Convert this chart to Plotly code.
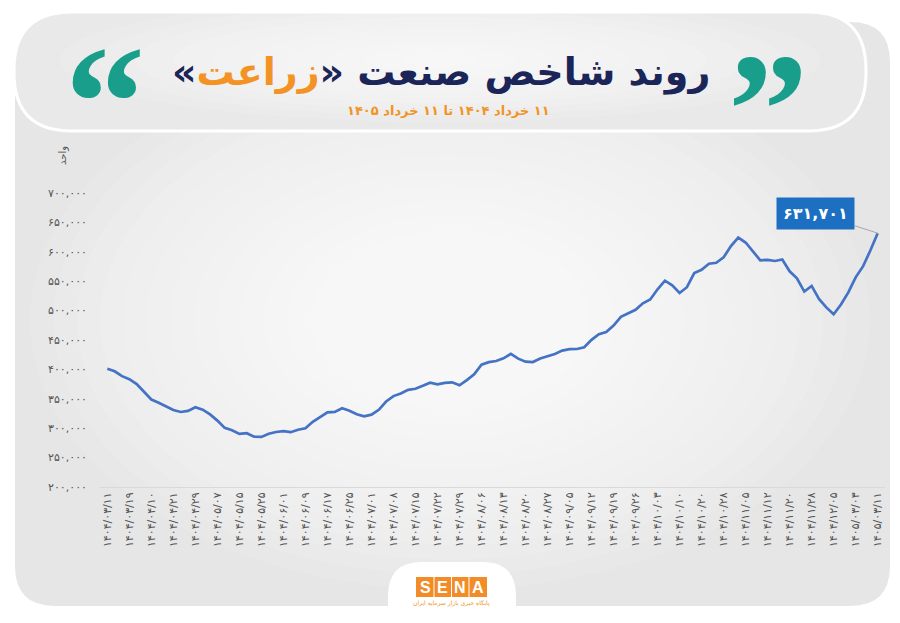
import plotly.graph_objects as go

W, H = 900, 623
ML, MR, MT, MB = 100, 15, 193, 136

# tick dates (every third point of the series)
dates = [
    "1404/03/11", "1404/03/19", "1404/04/10", "1404/04/21", "1404/04/29", "1404/05/07",
    "1404/05/15", "1404/05/25", "1404/06/01", "1404/06/09", "1404/06/17", "1404/06/25",
    "1404/07/01", "1404/07/08", "1404/07/15", "1404/07/22", "1404/07/29", "1404/08/06",
    "1404/08/13", "1404/08/20", "1404/08/27", "1404/09/05", "1404/09/12", "1404/09/19",
    "1404/09/26", "1404/10/03", "1404/10/10", "1404/10/20", "1404/10/28", "1404/11/05",
    "1404/11/12", "1404/11/20", "1404/11/28", "1404/12/05", "1405/03/03", "1405/03/11",
]

# index level
index_values = [
    401200, 396800, 388500, 383400, 375100, 361700, 348800, 343400, 337100, 331000,
    327600, 329500, 335600, 331500, 323400, 312900, 300500, 296600, 290300, 291500,
    285700, 285200, 290700, 293500, 294900, 293200, 297400, 300000, 310800, 318300,
    326800, 327600, 334000, 329600, 323700, 320200, 323000, 331300, 345400, 354600,
    359000, 365200, 367100, 372000, 377300, 374600, 377100, 378000, 372900, 381700,
    391500, 408000, 412400, 414200, 418800, 426300, 418300, 413200, 412500, 418500,
    422000, 426300, 431900, 434400, 434700, 437600, 450300, 460000, 463700, 474600,
    489500, 495800, 501300, 512500, 518800, 536300, 550800, 542900, 530000, 539800,
    563900, 569500, 579800, 581400, 590500, 609700, 624100, 615800, 599700, 585600,
    586100, 584400, 586900, 566800, 554900, 532400, 542000, 519800, 505400, 493700,
    510300, 531000, 556600, 575100, 602200, 631701,
]

y_ticks = [200000, 250000, 300000, 350000, 400000, 450000, 500000, 550000, 600000, 650000, 700000]

FA_DIGITS = str.maketrans("0123456789", "۰۱۲۳۴۵۶۷۸۹")


def fa(s):
    return str(s).translate(FA_DIGITS)


PW = W - ML - MR
PH = H - MT - MB


def px(x):
    return (x - ML) / PW


def py(y):
    return (H - MB - y) / PH


def rounded_path(x0, y0, x1, y1, r):
    def p(x, y):
        return f"{px(x):.5f},{py(y):.5f}"

    return (
        f"M{p(x0 + r, y0)} L{p(x1 - r, y0)} Q{p(x1, y0)} {p(x1, y0 + r)} "
        f"L{p(x1, y1 - r)} Q{p(x1, y1)} {p(x1 - r, y1)} "
        f"L{p(x0 + r, y1)} Q{p(x0, y1)} {p(x0, y1 - r)} "
        f"L{p(x0, y0 + r)} Q{p(x0, y0)} {p(x0 + r, y0)} Z"
    )


def ellipse(cx, cy, rx, ry, opacity):
    return dict(
        type="circle", xref="paper", yref="paper", layer="below",
        x0=px(cx - rx), x1=px(cx + rx), y0=py(cy + ry), y1=py(cy - ry),
        fillcolor="white", opacity=opacity, line_width=0,
    )


shapes = [
    dict(type="path", xref="paper", yref="paper", layer="below",
         path=rounded_path(15, 22, 890, 606, 40), fillcolor="#e6e6e6", line_width=0),
]
# soft radial glow on the card
steps = 18
for k in range(steps):
    f = 1 - k / steps
    shapes.append(ellipse(450, 320, 420 * f, 270 * f, 0.1))
shapes += [
    dict(type="path", xref="paper", yref="paper", layer="below",
         path=rounded_path(14, 12, 866, 131, 58), fillcolor="#e9e9e9",
         line=dict(color="white", width=3)),
]
for k in range(10):
    f = 1 - k / 10
    shapes.append(ellipse(440, 60, 380 * f, 62 * f, 0.13))
shapes += [
    # logo holder
    dict(type="path", xref="paper", yref="paper", layer="below",
         path=rounded_path(388, 562, 516, 640, 34), fillcolor="white", line_width=0),
    dict(type="rect", xref="paper", yref="paper", layer="below",
         x0=px(416), x1=px(487), y0=py(597), y1=py(577), fillcolor="#f28c28", line_width=0),
]
for xs in [434, 451.5, 469]:
    shapes.append(dict(type="line", xref="paper", yref="paper", layer="below",
                       x0=px(xs), x1=px(xs), y0=py(597), y1=py(577),
                       line=dict(color="white", width=1)))

fig = go.Figure()
fig.add_trace(
    go.Scatter(
        x=list(range(len(index_values))),
        y=index_values,
        mode="lines",
        line=dict(color="#4472c4", width=2.7),
        hoverinfo="skip",
        showlegend=False,
    )
)

navy = "#1b2558"
orange = "#f39325"
teal = "#1a9e8c"
annotations = [
    dict(x=px(712), y=py(72), xref="paper", yref="paper", xanchor="right", yanchor="middle",
         showarrow=False,
         text="<b>\u202bروند شاخص صنعت «<span style='color:" + orange + "'>زراعت</span>»\u202c</b>",
         font=dict(family="DejaVu Sans", size=38, color=navy)),
    dict(x=px(448), y=py(111), xref="paper", yref="paper", xanchor="center", yanchor="middle",
         showarrow=False, text="<b>\u202b" + fa("11 خرداد 1404 تا 11 خرداد 1405") + "\u202c</b>",
         font=dict(family="DejaVu Sans", size=13, color=orange)),
    dict(x=px(105), y=py(12), xref="paper", yref="paper", xanchor="center", yanchor="top",
         showarrow=False, text="<b>\u201c</b>",
         font=dict(family="Liberation Serif", size=160, color=teal)),
    dict(x=px(768), y=py(19), xref="paper", yref="paper", xanchor="center", yanchor="top",
         showarrow=False, text="<b>\u201d</b>",
         font=dict(family="Liberation Serif", size=160, color=teal)),
    dict(x=px(63), y=py(156), xref="paper", yref="paper", xanchor="center", yanchor="middle",
         showarrow=False, text="واحد", textangle=-90,
         font=dict(family="DejaVu Sans", size=10, color="#555555")),
    dict(x=len(index_values) - 1, y=index_values[-1], xref="x", yref="y",
         text="<b>" + fa(f"{index_values[-1]:,}") + "</b>",
         showarrow=True, arrowhead=0, arrowwidth=1, arrowcolor="#a6a6a6",
         ax=-62, ay=-20, standoff=0,
         bgcolor="#1c6fc1", borderpad=6,
         font=dict(family="DejaVu Sans", size=16, color="white")),
]
for letter, xc in zip("SENA", [425, 442.7, 460.3, 478]):
    annotations.append(dict(x=px(xc), y=py(587), xref="paper", yref="paper",
                            xanchor="center", yanchor="middle", showarrow=False,
                            text="<b>" + letter + "</b>",
                            font=dict(family="Liberation Sans", size=16, color="white")))
annotations.append(dict(x=px(451), y=py(603), xref="paper", yref="paper",
                        xanchor="center", yanchor="middle", showarrow=False,
                        text="پایگاه خبری بازار سرمایه ایران",
                        font=dict(family="DejaVu Sans", size=6, color=orange)))

fig.update_layout(
    width=W,
    height=H,
    margin=dict(l=ML, r=MR, t=MT, b=MB),
    paper_bgcolor="white",
    plot_bgcolor="rgba(0,0,0,0)",
    showlegend=False,
    shapes=shapes,
    annotations=annotations,
    xaxis=dict(
        range=[-1, len(index_values)],
        tickvals=list(range(0, len(index_values), 3)),
        ticktext=[fa(d) for d in dates],
        tickangle=-90,
        tickfont=dict(family="DejaVu Sans", size=11, color="#555555"),
        showgrid=False,
        zeroline=False,
        showline=True,
        linecolor="#d9d9d9",
        linewidth=1,
        automargin=False,
    ),
    yaxis=dict(
        range=[200000, 700000],
        tickvals=y_ticks,
        ticktext=[fa(f"{v:,}") for v in y_ticks],
        tickfont=dict(family="DejaVu Sans", size=11, color="#555555"),
        ticklabelstandoff=12,
        showgrid=False,
        zeroline=False,
        showline=False,
        automargin=False,
    ),
)

fig.write_html(
    "out.html",
    config={"displayModeBar": False},
    post_script="document.body.style.margin='0';",
)
